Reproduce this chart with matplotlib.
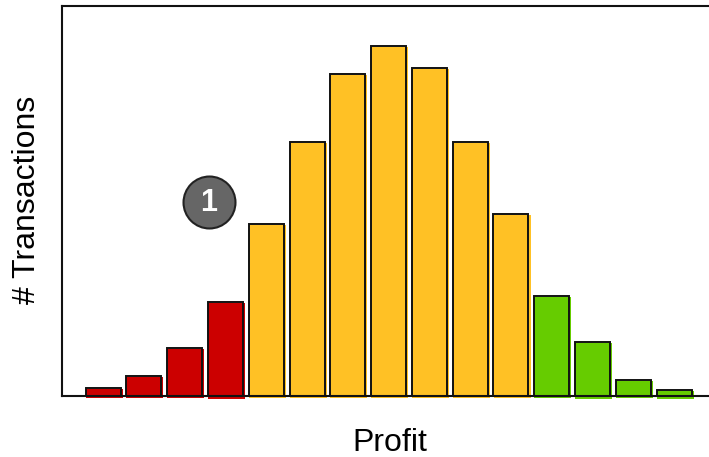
import matplotlib
matplotlib.use("Agg")
import matplotlib.pyplot as plt

plt.rcParams['font.family'] = ['Liberation Sans', 'DejaVu Sans']

transactions = [8, 20, 48, 94, 172, 254, 322, 350, 328, 254, 182, 100, 54, 16, 6]
bar_colors = ['#CC0000'] * 4 + ['#FFC125'] * 7 + ['#66CC00'] * 4
bar_drop = [2, 2, 2, 3, 2, 2, 2, 2, 2, 2, 2, 2, 3, 2, 3]

W, H = 709, 457
fig = plt.figure(figsize=(W / 100, H / 100), dpi=100)
ax = fig.add_axes([62 / W, 1 - 396 / H, (W - 62) / W, 390 / H])

pos = list(range(len(transactions)))
step = 40.8  # pixels between bars
width = 35 / step

# colour fill sits a little off the outline, to the right and below the baseline
for x, v, c, d in zip(pos, transactions, bar_colors, bar_drop):
    ax.bar(x + 1 / step, v + d - 1, width + 2 / step, bottom=-d, color=c,
           linewidth=0, clip_on=False, zorder=2)
ax.bar(pos, transactions, width, facecolor='none', edgecolor='#111111',
       linewidth=1.4, zorder=4)

ax.set_xlim(-41 / step, 606 / step)
ax.set_ylim(0, 390)
ax.set_xticks([])
ax.set_yticks([])

for name in ['left', 'top', 'bottom']:
    ax.spines[name].set_linewidth(1.5)
    ax.spines[name].set_color('#111111')
    ax.spines[name].set_zorder(3)
ax.spines['right'].set_visible(False)

fig.text(389.5 / W, 1 - 443 / H, 'Profit', fontsize=23, ha='center', va='center')
fig.text(27 / W, 1 - 200 / H, '# Transactions', fontsize=23, rotation=90,
         ha='center', va='center')

# numbered callout
ax.scatter([106 / step], [194], s=1400, color='#666666', edgecolor='#222222',
           linewidth=1.5, zorder=5)
ax.text(105.5 / step, 193, '1', color='white', fontsize=22, fontweight='bold',
        ha='center', va='center', zorder=6)

fig.savefig('out.png', dpi=100)
